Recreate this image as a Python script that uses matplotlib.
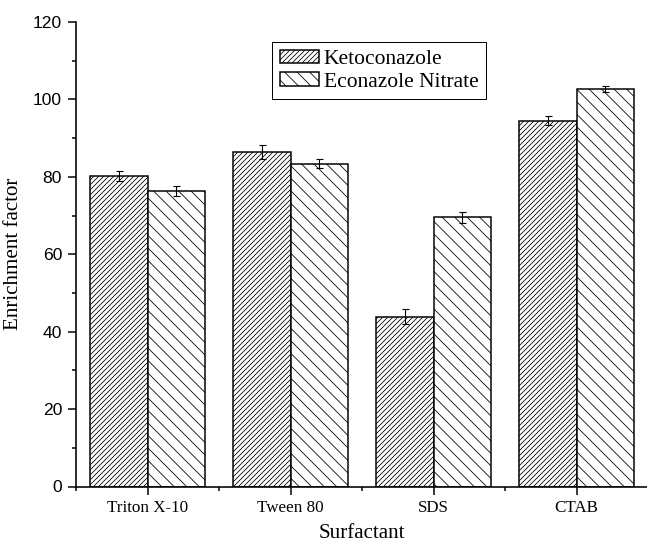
import numpy as np
import matplotlib
matplotlib.use("Agg")
import matplotlib.pyplot as plt
from matplotlib.ticker import MultipleLocator, FixedLocator

# enrichment factor per surfactant, mean and error
surfactants = ["Triton X-10", "Tween 80", "SDS", "CTAB"]
keto_mean = [80.2, 86.4, 43.9, 94.5]
keto_err = [1.2, 1.7, 2.0, 1.1]
econ_mean = [76.4, 83.4, 69.5, 102.7]
econ_err = [1.3, 1.1, 1.5, 0.8]
series_names = ["Ketoconazole", "Econazole Nitrate"]

DPI = 150


def pt(px):
    # pixel size -> points at the output dpi
    return px * 72.0 / DPI


plt.rcParams.update({
    "hatch.linewidth": pt(0.8),
    "hatch.color": "black",
})

SERIF = ["Liberation Serif", "DejaVu Serif"]
SANS = ["Liberation Sans", "DejaVu Sans"]

fig = plt.figure(figsize=(647 / DPI, 547 / DPI), dpi=DPI)
ax = fig.add_axes([76 / 647, 60.5 / 547, 572 / 647, 464.5 / 547])

x = np.arange(len(surfactants))
w = 0.4
ekw = dict(elinewidth=pt(1.1), capthick=pt(1.1), ecolor="black")
ax.bar(x - w / 2, keto_mean, w, yerr=keto_err, capsize=pt(3.5),
       color="white", edgecolor="black", linewidth=pt(1.5), hatch="/" * 10,
       error_kw=ekw, label=series_names[0])
ax.bar(x + w / 2, econ_mean, w, yerr=econ_err, capsize=pt(3.5),
       color="white", edgecolor="black", linewidth=pt(1.5), hatch="\\" * 4,
       error_kw=ekw, label=series_names[1])

ax.set_xlim(-0.5, len(surfactants) - 0.5)
ax.set_ylim(0, 120)
ax.yaxis.set_major_locator(MultipleLocator(20))
ax.yaxis.set_minor_locator(MultipleLocator(10))
ax.set_xticks(x)
ax.set_xticklabels(surfactants, fontfamily=SERIF, fontsize=pt(17))
ax.xaxis.set_minor_locator(FixedLocator(np.arange(-0.5, len(surfactants), 1.0)))

for lab in ax.get_yticklabels():
    lab.set_fontfamily(SANS)
    lab.set_fontsize(pt(17.5))

ax.tick_params(which="major", direction="out", length=pt(8), width=pt(1.5), pad=pt(6))
ax.tick_params(which="minor", direction="out", length=pt(4), width=pt(1.5))

for s in ("top", "right"):
    ax.spines[s].set_visible(False)
for s in ("left", "bottom"):
    ax.spines[s].set_linewidth(pt(1.6))

ax.set_xlabel("Surfactant", fontfamily=SERIF, fontsize=pt(21), labelpad=pt(8))
ax.set_ylabel("Enrichment factor", fontfamily=SERIF, fontsize=pt(21), labelpad=pt(10))

leg = ax.legend(loc="upper left", bbox_to_anchor=(272 / 647, 1 - 42 / 547),
                bbox_transform=fig.transFigure, borderaxespad=0,
                prop={"family": SERIF, "size": pt(21.5)},
                fancybox=False, framealpha=1, edgecolor="black",
                handlelength=1.85, handleheight=0.6, handletextpad=0.2,
                labelspacing=0.15, borderpad=0.35)
leg.get_frame().set_linewidth(pt(1.0))

fig.savefig("out.png", dpi=DPI)
